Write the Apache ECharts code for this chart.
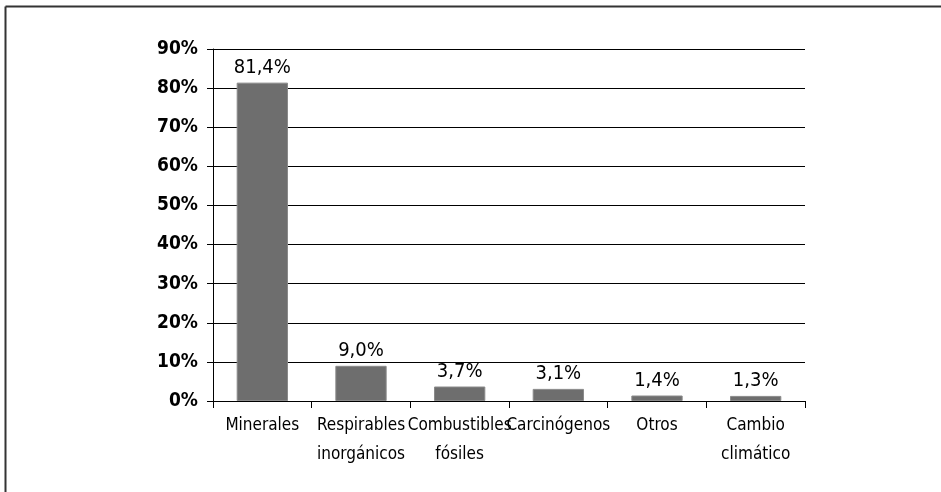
<!DOCTYPE html>
<html><head><meta charset="utf-8">
<script src="https://cdn.jsdelivr.net/npm/echarts@6/dist/echarts.min.js"></script>
<style>html,body{margin:0;padding:0;background:#fff}#c{width:941px;height:492px}</style>
</head><body><div id="c"></div>
<script>
const categories = ['Minerales', 'Respirables\ninorgánicos', 'Combustibles\nfósiles', 'Carcinógenos', 'Otros', 'Cambio\nclimático'];
const values = [81.4, 9.0, 3.7, 3.1, 1.4, 1.3];
const yTicks = [0, 10, 20, 30, 40, 50, 60, 70, 80, 90];
const FONT = '"DejaVu Sans Condensed", "Liberation Sans Narrow", sans-serif';
const chart = echarts.init(document.getElementById('c'), null, {renderer: 'canvas'});
chart.setOption({
  animation: false,
  backgroundColor: '#fff',
  grid: {left: 213, right: 136, top: 49, bottom: 91, containLabel: false},
  xAxis: {
    type: 'category', data: categories,
    axisLine: {lineStyle: {color: '#000', width: 1}},
    axisTick: {show: true, length: 7, lineStyle: {color: '#000'}, alignWithLabel: false},
    axisLabel: {color: '#000', fontFamily: FONT, fontSize: 17, lineHeight: 29, margin: 10, interval: 0}
  },
  yAxis: {
    type: 'value', min: yTicks[0], max: yTicks[yTicks.length - 1], interval: 10,
    axisLine: {show: true, lineStyle: {color: '#000', width: 1}},
    axisTick: {show: true, length: 6, lineStyle: {color: '#000'}},
    splitLine: {show: true, lineStyle: {color: '#000', width: 1}},
    axisLabel: {color: '#000', fontFamily: FONT, fontWeight: 'bold', fontSize: 19, margin: 15,
      formatter: v => v + '%'}
  },
  series: [{
    type: 'bar', data: values, barWidth: '52%',
    itemStyle: {color: '#6e6e6e', borderColor: '#8a8a8a', borderWidth: 1},
    label: {show: true, position: 'top', distance: 5, color: '#000', fontFamily: FONT, fontSize: 20,
      formatter: p => p.value.toFixed(1).replace('.', ',') + '%'}
  }],
  graphic: [
    {type: 'line', shape: {x1: 5.5, y1: 6.5, x2: 941, y2: 6.5}, style: {stroke: '#333', lineWidth: 2}},
    {type: 'line', shape: {x1: 5.5, y1: 6.5, x2: 5.5, y2: 492}, style: {stroke: '#333', lineWidth: 2}}
  ]
});
</script></body></html>
